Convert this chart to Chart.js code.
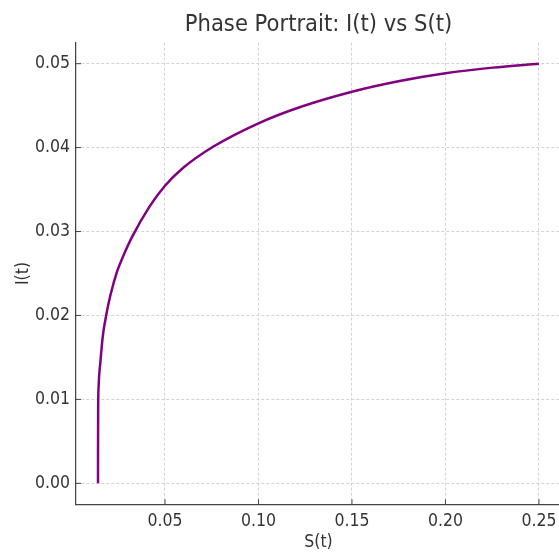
<!DOCTYPE html>
<html>
<head>
<meta charset="utf-8">
<script src="https://cdn.jsdelivr.net/npm/chart.js@4.4.1/dist/chart.umd.min.js"></script>
<style>
  html, body { margin: 0; padding: 0; overflow: hidden; background: #fff; }
  #wrap { width: 596px; height: 556px; }
</style>
</head>
<body>
<div id="wrap"><canvas id="phase"></canvas></div>
<script>
// values: S(t) on x, I(t) on y
const sValues = [0.01417, 0.01418, 0.01428, 0.01455, 0.01545, 0.0168, 0.0187, 0.0208, 0.0243, 0.0279,
                 0.0324, 0.0418, 0.0500, 0.0596, 0.0757, 0.1000, 0.1220, 0.1500, 0.1755, 0.2000,
                 0.2254, 0.2500];
const iValues = [0.0000, 0.0040, 0.0095, 0.0118, 0.01448, 0.01765, 0.0202, 0.0224, 0.0252, 0.0272,
                 0.02936, 0.0330, 0.03546, 0.03757, 0.0401, 0.0429, 0.04481, 0.04666, 0.04794, 0.04887,
                 0.04953, 0.0500];
const xTicks = [0.05, 0.10, 0.15, 0.20, 0.25];
const yTicks = [0.00, 0.01, 0.02, 0.03, 0.04, 0.05];

const FONT = '"DejaVu Sans Condensed", "Liberation Sans Narrow", "DejaVu Sans", sans-serif';
const TEXT = '#333333';
const SPINE = '#444444';

const points = sValues.map((s, i) => ({ x: s, y: iValues[i] }));

// matplotlib-style ticks pointing into the plot
const innerTicks = {
  id: 'innerTicks',
  afterDraw(chart) {
    const { ctx, chartArea, scales } = chart;
    ctx.save();
    ctx.strokeStyle = SPINE;
    ctx.lineWidth = 1;
    ctx.beginPath();
    xTicks.forEach(v => {
      const px = scales.x.getPixelForValue(v);
      ctx.moveTo(px, chartArea.bottom);
      ctx.lineTo(px, chartArea.bottom - 5);
    });
    yTicks.forEach(v => {
      const py = scales.y.getPixelForValue(v);
      ctx.moveTo(chartArea.left, py);
      ctx.lineTo(chartArea.left + 5, py);
    });
    ctx.stroke();
    ctx.restore();
  }
};

new Chart(document.getElementById('phase'), {
  type: 'line',
  data: {
    datasets: [{
      label: 'I(t) vs S(t)',
      data: points,
      borderColor: '#800080',
      borderWidth: 2.5,
      pointRadius: 0,
      fill: false,
      cubicInterpolationMode: 'monotone'
    }]
  },
  options: {
    responsive: true,
    maintainAspectRatio: false,
    animation: false,
    layout: { padding: { left: 0, right: 35, top: 0, bottom: 0 } },
    plugins: {
      legend: { display: false },
      tooltip: { enabled: false },
      title: {
        display: true,
        fullSize: false,
        text: 'Phase Portrait: I(t) vs S(t)',
        color: TEXT,
        font: { family: FONT, size: 23.5, weight: 'normal' },
        padding: { top: 11, bottom: 3.5 }
      }
    },
    scales: {
      x: {
        type: 'linear',
        min: 0.0024,
        max: 0.2618,
        afterBuildTicks: s => { s.ticks = xTicks.map(v => ({ value: v })); },
        afterFit: s => { s.height = 51.7; },
        ticks: {
          color: TEXT,
          padding: 7,
          font: { family: FONT, size: 17.5 },
          callback: v => v.toFixed(2)
        },
        grid: { color: '#c8c8c8', lineWidth: 0.8, drawTicks: false },
        border: { color: SPINE, width: 1.25, dash: [3, 2] },
        title: {
          display: true,
          text: 'S(t)',
          color: TEXT,
          font: { family: FONT, size: 17.5 },
          padding: { top: 0, bottom: 3 }
        }
      },
      y: {
        type: 'linear',
        min: -0.0025,
        max: 0.0525,
        afterBuildTicks: s => { s.ticks = yTicks.map(v => ({ value: v })); },
        afterFit: s => { s.width = 76; },
        ticks: {
          color: TEXT,
          padding: 6,
          font: { family: FONT, size: 17.5 },
          callback: v => v.toFixed(2)
        },
        grid: { color: '#c8c8c8', lineWidth: 0.8, drawTicks: false },
        border: { color: SPINE, width: 1.25, dash: [3, 2] },
        title: {
          display: true,
          text: 'I(t)',
          color: TEXT,
          font: { family: FONT, size: 17.5 },
          padding: { top: 13, bottom: 0 }
        }
      }
    }
  },
  plugins: [innerTicks]
});
</script>
</body>
</html>
